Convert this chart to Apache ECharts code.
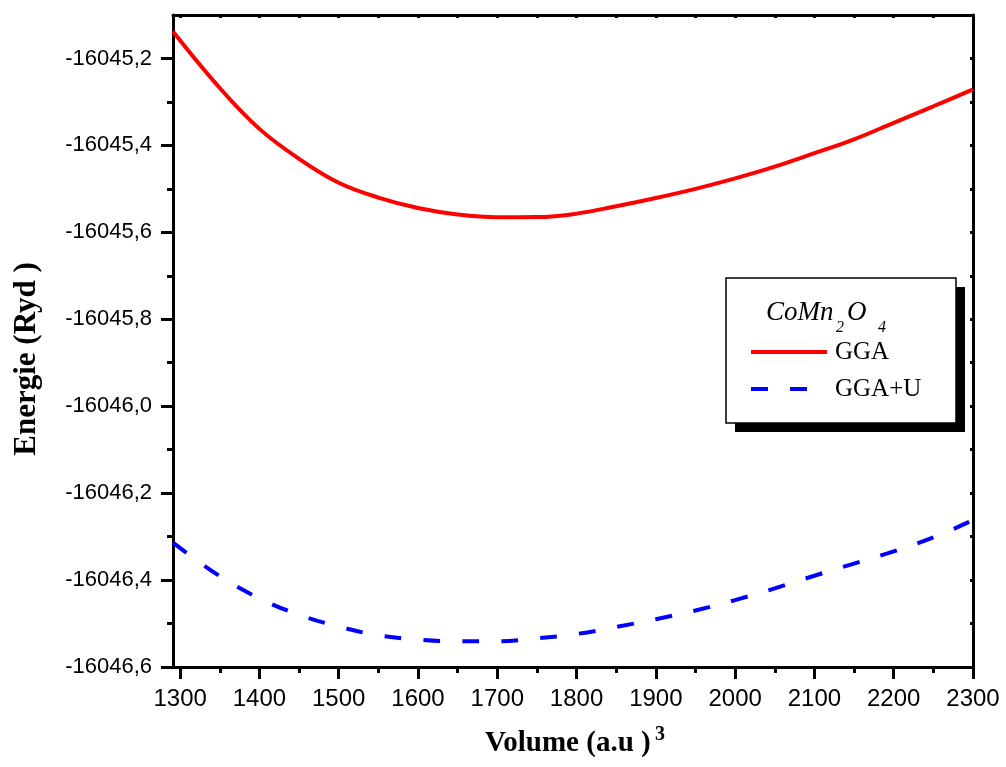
<!DOCTYPE html>
<html>
<head>
<meta charset="utf-8">
<title>CoMn2O4 Energie-Volume</title>
<script src="https://cdn.jsdelivr.net/npm/echarts@6/dist/echarts.min.js"></script>
<style>
  html, body { margin: 0; padding: 0; background: #fff; }
  #chart { width: 1006px; height: 767px; }
</style>
</head>
<body>
<div id="chart"></div>
<script>
// Volume (a.u)^3
const volume = [1291, 1350, 1400, 1450, 1500, 1550, 1600, 1650, 1700, 1750,
                1800, 1850, 1900, 1950, 2000, 2050, 2100, 2150, 2200, 2250, 2300];
// Total energy (Ryd), GGA
const energyGGA = [-16045.138, -16045.268, -16045.362, -16045.431, -16045.486,
                   -16045.520, -16045.544, -16045.559, -16045.5655, -16045.565, -16045.557,
                   -16045.540, -16045.521, -16045.500, -16045.476, -16045.449, -16045.418,
                   -16045.386, -16045.348, -16045.310, -16045.271];
// Total energy (Ryd), GGA+U
const energyGGAU = [-16046.314, -16046.391, -16046.442, -16046.480, -16046.507,
                    -16046.527, -16046.537, -16046.541, -16046.541, -16046.534, -16046.524,
                    -16046.508, -16046.490, -16046.470, -16046.446, -16046.419, -16046.390,
                    -16046.362, -16046.334, -16046.302, -16046.262];

const seriesNames = ['GGA', 'GGA+U'];
const seriesColors = ['#ff0000', '#0000ff'];
const dashPattern = [17, 22];

// Tick positions
const xMajor = [1300, 1400, 1500, 1600, 1700, 1800, 1900, 2000, 2100, 2200, 2300];
const xMinor = [1350, 1450, 1550, 1650, 1750, 1850, 1950, 2050, 2150, 2250];
const yMajor = [-16046.6, -16046.4, -16046.2, -16046.0, -16045.8, -16045.6, -16045.4, -16045.2];
const yMinor = [-16046.5, -16046.3, -16046.1, -16045.9, -16045.7, -16045.5, -16045.3];

const X_MIN = 1291, X_MAX = 2300;
const Y_MIN = -16046.6, Y_MAX = -16045.1;

const chart = echarts.init(document.getElementById('chart'), null, { renderer: 'canvas' });

const black = '#000';
const hidden = { show: false };
const serif = '"Liberation Serif", "Times New Roman", serif';

function xAxisBase(extra) {
  return Object.assign({
    type: 'value', min: X_MIN, max: X_MAX,
    splitLine: hidden,
    axisLine: { show: false, onZero: false }
  }, extra);
}
function yAxisBase(extra) {
  return Object.assign({
    type: 'value', min: Y_MIN, max: Y_MAX,
    splitLine: hidden,
    axisLine: { show: false, onZero: false }
  }, extra);
}

// text placed by its baseline (middle of the em box sits ~0.34em above it)
function label(text, x, baseline, size, style) {
  return {
    type: 'text', x: x, y: baseline - 0.34 * size, z: 2,
    style: { text: text, fill: black, font: style + ' ' + size + 'px ' + serif,
             align: 'left', verticalAlign: 'middle' }
  };
}

const option = {
  backgroundColor: '#fff',
  animation: false,
  grid: { left: 173, right: 33, top: 15, bottom: 100, containLabel: false },
  xAxis: [
    xAxisBase({
      position: 'bottom',
      axisLine: { show: true, onZero: false, lineStyle: { color: black, width: 3 } },
      axisTick: { show: true, length: 12, customValues: xMajor, lineStyle: { color: black, width: 3 } },
      axisLabel: {
        customValues: xMajor, margin: 20,
        color: black, fontFamily: 'Liberation Sans, Arial, sans-serif', fontSize: 24,
        formatter: v => String(Math.round(v))
      }
    }),
    xAxisBase({
      position: 'bottom',
      axisTick: { show: true, length: 6, customValues: xMinor, lineStyle: { color: black, width: 3 } },
      axisLabel: hidden
    }),
    xAxisBase({
      position: 'top',
      axisLine: { show: true, onZero: false, lineStyle: { color: black, width: 3 } },
      axisTick: { show: true, inside: true, length: 3, customValues: xMajor.concat(xMinor), lineStyle: { color: black, width: 3 } },
      axisLabel: hidden
    })
  ],
  yAxis: [
    yAxisBase({
      position: 'left',
      axisLine: { show: true, onZero: false, lineStyle: { color: black, width: 3 } },
      axisTick: { show: true, length: 12, customValues: yMajor, lineStyle: { color: black, width: 3 } },
      axisLabel: {
        customValues: yMajor, margin: 21,
        color: black, fontFamily: 'Liberation Sans, Arial, sans-serif', fontSize: 22,
        formatter: v => v.toFixed(1).replace('.', ',')
      }
    }),
    yAxisBase({
      position: 'left',
      axisTick: { show: true, length: 6, customValues: yMinor, lineStyle: { color: black, width: 3 } },
      axisLabel: hidden
    }),
    yAxisBase({
      position: 'right',
      axisLine: { show: true, onZero: false, lineStyle: { color: black, width: 3 } },
      axisTick: { show: true, inside: true, length: 3, customValues: yMajor.concat(yMinor), lineStyle: { color: black, width: 3 } },
      axisLabel: hidden
    })
  ],
  legend: {
    orient: 'vertical',
    left: 749, top: 339,
    padding: 0,
    itemWidth: 76, itemHeight: 26, itemGap: 11,
    itemStyle: { opacity: 0 },
    textStyle: {
      color: black, fontFamily: serif, fontSize: 25,
      lineHeight: 26, padding: [0, 0, 0, 3]
    },
    data: [
      { name: seriesNames[0], itemStyle: { opacity: 0 },
        lineStyle: { color: seriesColors[0], width: 4, type: 'solid' } },
      { name: seriesNames[1], itemStyle: { opacity: 0 },
        lineStyle: { color: seriesColors[1], width: 4, type: dashPattern } }
    ]
  },
  graphic: [
    // legend frame with drop shadow
    { type: 'rect', shape: { x: 735, y: 287, width: 230, height: 145 }, style: { fill: black }, z: 0 },
    { type: 'rect', shape: { x: 726, y: 278, width: 230, height: 145 },
      style: { fill: '#fff', stroke: black, lineWidth: 1.5 }, z: 1 },
    // compound name CoMn2O4
    label('CoMn', 766, 322, 27, 'italic'),
    label('2', 836, 333, 16, 'italic'),
    label('O', 847, 322, 27, 'italic'),
    label('4', 878, 333, 16, 'italic'),
    // axis titles
    label('Volume (a.u )', 485, 753, 29, 'bold'),
    label('3', 655, 742, 20, 'bold'),
    { type: 'text', x: 27, y: 359, rotation: Math.PI / 2, z: 2,
      style: { text: 'Energie (Ryd )', fill: black, font: 'bold 31px ' + serif,
               align: 'center', verticalAlign: 'middle' } }
  ],
  series: [
    {
      name: seriesNames[0], type: 'line', xAxisIndex: 0, yAxisIndex: 0,
      data: volume.map((v, i) => [v, energyGGA[i]]),
      symbol: 'none', smooth: 0.4, clip: true,
      lineStyle: { color: seriesColors[0], width: 4, type: 'solid' },
      itemStyle: { color: seriesColors[0] }
    },
    {
      name: seriesNames[1], type: 'line', xAxisIndex: 0, yAxisIndex: 0,
      data: volume.map((v, i) => [v, energyGGAU[i]]),
      symbol: 'none', smooth: 0.4, clip: true,
      lineStyle: { color: seriesColors[1], width: 4, type: dashPattern },
      itemStyle: { color: seriesColors[1] }
    }
  ]
};

chart.setOption(option);
</script>
</body>
</html>
